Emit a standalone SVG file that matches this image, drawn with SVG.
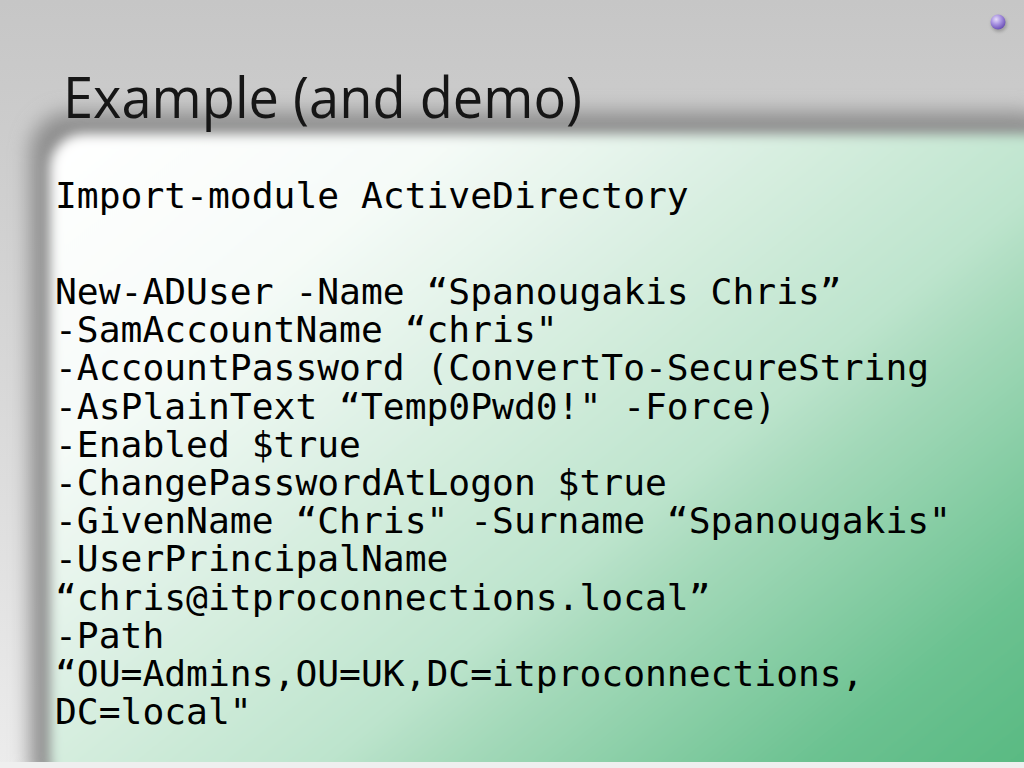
<svg xmlns="http://www.w3.org/2000/svg" width="1024" height="768" viewBox="0 0 1024 768">
<defs>
<linearGradient id="bg" x1="0" y1="0" x2="0" y2="1">
<stop offset="0" stop-color="#c6c6c6"/>
<stop offset="0.5" stop-color="#d8d8d8"/>
<stop offset="1" stop-color="#ececec"/>
</linearGradient>
<linearGradient id="panel" gradientUnits="userSpaceOnUse" x1="60" y1="140" x2="740" y2="983">
<stop offset="0" stop-color="#ffffff"/>
<stop offset="0.22" stop-color="#f6fbf8"/>
<stop offset="0.46" stop-color="#d2ecdc"/>
<stop offset="0.6" stop-color="#bde4cd"/>
<stop offset="0.67" stop-color="#a6dabb"/>
<stop offset="0.88" stop-color="#6cc291"/>
<stop offset="1" stop-color="#5aba83"/>
</linearGradient>
<radialGradient id="ball" cx="0.38" cy="0.32" r="0.7">
<stop offset="0" stop-color="#e6dcfa"/>
<stop offset="0.5" stop-color="#a690e0"/>
<stop offset="1" stop-color="#6a4fb4"/>
</radialGradient>
<filter id="shadow" x="-10%" y="-10%" width="120%" height="120%">
<feGaussianBlur stdDeviation="10"/>
</filter>
<filter id="soft" x="-5%" y="-5%" width="110%" height="110%">
<feGaussianBlur stdDeviation="6"/>
</filter>
<filter id="ballsh" x="-50%" y="-50%" width="200%" height="200%">
<feGaussianBlur stdDeviation="1.5"/>
</filter>
</defs>
<style>
.title{font-family:"Open Sans","Liberation Sans",sans-serif;font-size:56px;fill:#161616}
.code{font-family:"DejaVu Sans Mono","Liberation Mono",monospace;font-size:36.3px;fill:#000000}
</style>
<g id="background">
<rect x="0" y="0" width="1024" height="768" fill="url(#bg)"/>
<rect x="30" y="112" width="1030" height="690" rx="40" fill="#8e8e8e" filter="url(#shadow)"/>
<rect x="50" y="134" width="1010" height="660" rx="34" fill="url(#panel)" filter="url(#soft)"/>
<rect x="0" y="762" width="1024" height="6" fill="#efefef"/>
</g>
<g id="bullet">
<circle cx="999" cy="24" r="8" fill="#777" opacity="0.5" filter="url(#ballsh)"/>
<circle cx="998" cy="22" r="7.5" fill="url(#ball)"/>
</g>
<g id="title">
<text class="title" x="63" y="118" textLength="519" lengthAdjust="spacingAndGlyphs">Example (and demo)</text>
</g>
<g id="code">
<text class="code" x="55" y="208">Import-module ActiveDirectory</text>
<text class="code" x="55" y="304">New-ADUser -Name “Spanougakis Chris”</text>
<text class="code" x="55" y="342">-SamAccountName “chris"</text>
<text class="code" x="55" y="380">-AccountPassword (ConvertTo-SecureString</text>
<text class="code" x="55" y="419">-AsPlainText “Temp0Pwd0!" -Force)</text>
<text class="code" x="55" y="457">-Enabled $true</text>
<text class="code" x="55" y="495">-ChangePasswordAtLogon $true</text>
<text class="code" x="55" y="533">-GivenName “Chris" -Surname “Spanougakis"</text>
<text class="code" x="55" y="571">-UserPrincipalName</text>
<text class="code" x="55" y="610">“chris@itproconnections.local”</text>
<text class="code" x="55" y="648">-Path</text>
<text class="code" x="55" y="686">“OU=Admins,OU=UK,DC=itproconnections,</text>
<text class="code" x="55" y="724">DC=local"</text>
</g>
</svg>
